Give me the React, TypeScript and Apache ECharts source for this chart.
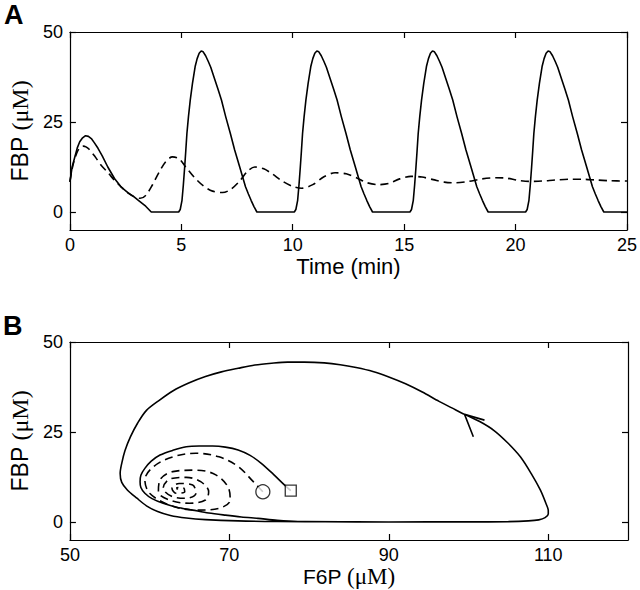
import React, { useEffect, useRef } from "react";
import * as echarts from "echarts";

// ---------- tick labels ----------
const timeTicks = [0, 5, 10, 15, 20, 25];
const fbpTicks = [0, 25, 50];
const f6pTicks = [50, 70, 90, 110];

// ---------- Panel A: FBP vs time ----------
const fbpOscillating: number[][] = [
  [0, 8.4], [0.1, 12.5], [0.22, 15.3], [0.33, 17.8], [0.44, 19.5], [0.57, 20.6], [0.7, 21.2], [0.83, 21.0],
  [0.96, 20.4], [1.1, 19.2], [1.26, 17.7], [1.45, 15.6], [1.7, 12.5], [2.0, 9.3], [2.29, 7.0], [2.6, 5.4],
  [2.88, 4.2], [3.1, 3.1], [3.4, 1.6], [3.65, 0],
  [4.88, 0], [4.95, 0.7], [5.03, 3.25], [5.09, 7.5], [5.15, 12.5], [5.2, 17], [5.25, 21.8], [5.32, 26.5],
  [5.4, 31.1], [5.5, 35.7], [5.62, 40.4], [5.71, 42.6], [5.8, 44.1], [5.89, 44.7], [5.98, 44.5], [6.09, 43.4],
  [6.21, 41.8], [6.32, 40.2], [6.49, 37.0], [6.65, 34.0], [6.8, 31.1], [6.99, 26.5], [7.2, 21.8], [7.39, 17.3],
  [7.62, 12.5], [7.88, 7.0], [8.01, 5.0], [8.13, 3.25], [8.26, 1.5], [8.39, 0],
  [10.07, 0], [10.14, 0.7], [10.22, 3.25], [10.28, 7.5], [10.34, 12.5], [10.39, 17], [10.44, 21.8], [10.51, 26.5],
  [10.59, 31.1], [10.69, 35.7], [10.81, 40.4], [10.9, 42.6], [10.99, 44.1], [11.08, 44.7], [11.17, 44.5], [11.28, 43.4],
  [11.4, 41.8], [11.51, 40.2], [11.68, 37.0], [11.84, 34.0], [11.99, 31.1], [12.18, 26.5], [12.39, 21.8], [12.58, 17.3],
  [12.81, 12.5], [13.07, 7.0], [13.2, 5.0], [13.32, 3.25], [13.45, 1.5], [13.58, 0],
  [15.26, 0], [15.33, 0.7], [15.41, 3.25], [15.47, 7.5], [15.53, 12.5], [15.58, 17], [15.63, 21.8], [15.7, 26.5],
  [15.78, 31.1], [15.88, 35.7], [16.0, 40.4], [16.09, 42.6], [16.18, 44.1], [16.27, 44.7], [16.36, 44.5], [16.47, 43.4],
  [16.59, 41.8], [16.7, 40.2], [16.87, 37.0], [17.03, 34.0], [17.18, 31.1], [17.37, 26.5], [17.58, 21.8], [17.77, 17.3],
  [18.0, 12.5], [18.26, 7.0], [18.39, 5.0], [18.51, 3.25], [18.64, 1.5], [18.77, 0],
  [20.45, 0], [20.52, 0.7], [20.6, 3.25], [20.66, 7.5], [20.72, 12.5], [20.77, 17], [20.82, 21.8], [20.89, 26.5],
  [20.97, 31.1], [21.07, 35.7], [21.19, 40.4], [21.28, 42.6], [21.37, 44.1], [21.46, 44.7], [21.55, 44.5], [21.66, 43.4],
  [21.78, 41.8], [21.89, 40.2], [22.06, 37.0], [22.22, 34.0], [22.37, 31.1], [22.56, 26.5], [22.77, 21.8], [22.96, 17.3],
  [23.19, 12.5], [23.45, 7.0], [23.58, 5.0], [23.7, 3.25], [23.83, 1.5], [23.96, 0], [25, 0],
];

const fbpDamped: number[][] = [
  [0, 8.4], [0.1, 12.0], [0.2, 14.5], [0.3, 16.3], [0.4, 17.5], [0.5, 18.1], [0.6, 18.3], [0.72, 18.1], [0.85, 17.5],
  [1.1, 15.6], [1.4, 13.0], [1.7, 11.0], [2.0, 8.8], [2.3, 7.0], [2.6, 5.3], [2.9, 4.2], [3.15, 3.8], [3.4, 4.6],
  [3.7, 7.5], [4.0, 11.0], [4.3, 14.0], [4.6, 15.3], [4.9, 14.8], [5.2, 12.5], [5.6, 9.5], [6.0, 7.2], [6.4, 5.8],
  [6.85, 5.4], [7.2, 6.2], [7.6, 8.5], [8.0, 11.5], [8.3, 12.5], [8.7, 12.0], [9.1, 10.5], [9.5, 8.7], [10.0, 7.1],
  [10.4, 6.6], [10.9, 7.6], [11.4, 9.8], [11.9, 10.9], [12.4, 10.6], [12.9, 9.4], [13.3, 8.2], [13.8, 7.6],
  [14.3, 7.9], [14.8, 9.2], [15.3, 9.9], [15.8, 9.7], [16.3, 9.0], [16.8, 8.3], [17.3, 8.1], [17.9, 8.5],
  [18.5, 9.2], [19.1, 9.5], [19.6, 9.4], [20.1, 8.8], [20.6, 8.5], [21.2, 8.6], [21.8, 8.9], [22.5, 9.1],
  [23.0, 9.1], [23.6, 8.9], [24.2, 8.7], [25, 8.6],
];

// ---------- Panel B: phase plane FBP vs F6P ----------
const limitCycle: number[][] = [
  [77.7, 8.7], [76.9, 10.3], [75.5, 13.3], [74.0, 16.3], [72.6, 18.5], [71.1, 20.0], [69.5, 20.8], [67.9, 21.1],
  [66.2, 21.1], [64.6, 20.9], [62.9, 19.9], [61.3, 18.6], [60.2, 16.9], [59.4, 14.9], [58.9, 13.0], [58.8, 11.2],
  [58.9, 9.6], [59.4, 8.0], [60.3, 6.5], [61.7, 5.2], [63.4, 4.1], [65.4, 3.3], [67.4, 2.5], [69.5, 1.9],
  [71.5, 1.4], [73.6, 1.0], [76.0, 0.5], [78.6, 0.15], [82, 0.05], [90, 0.02], [100, 0.03], [105, 0.1],
  [107.5, 0.3], [108.8, 0.6], [109.6, 1.2], [110.0, 2.2], [110.0, 3.2], [109.7, 5.2], [109.0, 8.9], [107.9, 13.3],
  [106.5, 18.1], [104.9, 22.0], [103.2, 25.4], [101.4, 27.9], [99.5, 29.9], [97.9, 31.7], [96.3, 33.5],
  [94.2, 36.1], [92.1, 38.4], [90.0, 40.3], [88.0, 41.8], [85.9, 42.9], [83.9, 43.7], [81.9, 44.2], [79.4, 44.4],
  [77.3, 44.4], [75.3, 44.1], [73.2, 43.6], [71.1, 42.7], [69.0, 41.7], [67.0, 40.4], [64.9, 38.6], [62.9, 36.4],
  [61.2, 33.8], [59.6, 31.0], [58.5, 27.5], [57.6, 23.7], [56.9, 19.8], [56.5, 16.3], [56.3, 13.5], [56.5, 11.0],
  [57.2, 8.9], [58.4, 6.6], [59.6, 4.5], [61.0, 2.9], [62.6, 1.8], [64.6, 1.1], [67.0, 0.65], [71.1, 0.3],
  [76.1, 0.15], [84, 0.05],
];

const dampedSpiral: number[][] = [
  [74.2, 8.4], [73.0, 11.2], [71.1, 15.4], [68.7, 18.1], [65.8, 19.1], [62.9, 18.1], [60.5, 15.4], [59.4, 11.7],
  [60.0, 8.0], [62.5, 4.7], [65.8, 3.3], [68.7, 3.8], [70.1, 6.1], [69.9, 9.4], [68.3, 13.1], [65.8, 14.4],
  [62.9, 14.0], [61.3, 11.7], [61.1, 8.4], [62.5, 6.1], [65.0, 5.2], [67.0, 6.1], [67.4, 8.4], [66.4, 11.2],
  [64.6, 12.4], [62.5, 11.9], [61.7, 9.4], [62.7, 7.2], [64.6, 6.6], [65.8, 8.0], [65.4, 10.3], [63.7, 10.7],
  [62.8, 9.4], [63.3, 8.0], [64.4, 8.4], [64.2, 9.6], [63.4, 9.5], [63.5, 9.0],
];

const arrowHead: number[][] = [[102.0, 28.3], [99.5, 29.9], [100.6, 23.7]];
const startSquare: number[][] = [[77.7, 8.7]];
const startCircle: number[][] = [[74.2, 8.4]];

const SANS = "Liberation Sans";
const SERIF = "Liberation Serif";

export default function App() {
  const ref = useRef<HTMLDivElement>(null);

  useEffect(() => {
    if (!ref.current) return;
    const chart = echarts.init(ref.current, undefined, { renderer: "svg" });

    const lineStyleAxis = { color: "#000", width: 1.2 };
    const labelStyle = { fontFamily: SANS, fontSize: 18, color: "#000" };

    const mkX = (gridIndex: number, min: number, max: number, ticks: number[], top: boolean, name?: any, nameStyle?: any, gap?: number) => ({
      type: "value",
      gridIndex,
      min,
      max,
      position: top ? "top" : "bottom",
      axisLine: { show: true, onZero: false, lineStyle: lineStyleAxis },
      axisTick: { show: true, inside: true, length: 6, lineStyle: lineStyleAxis, customValues: ticks },
      axisLabel: top ? { show: false } : { show: true, margin: 6, customValues: ticks, ...labelStyle },
      splitLine: { show: false },
      name: top ? undefined : name,
      nameLocation: "middle",
      nameGap: gap ?? 26,
      nameTextStyle: nameStyle,
    });

    const yNameStyle = {
      rich: {
        s: { fontFamily: SANS, fontSize: 23, color: "#000" },
        m: { fontFamily: SERIF, fontSize: 24, color: "#000" },
      },
    };

    const mkY = (gridIndex: number, right: boolean) => ({
      type: "value",
      gridIndex,
      min: -5,
      max: 50,
      position: right ? "right" : "left",
      axisLine: { show: true, onZero: false, lineStyle: lineStyleAxis },
      axisTick: { show: true, inside: true, length: 6, lineStyle: lineStyleAxis, customValues: fbpTicks },
      axisLabel: right ? { show: false } : { show: true, margin: 7, customValues: fbpTicks, ...labelStyle },
      splitLine: { show: false },
      name: right ? undefined : "{s|FBP }{m|(μM)}",
      nameLocation: "middle",
      nameRotate: 90,
      nameGap: 34,
      nameTextStyle: yNameStyle,
    });

    const line = (data: number[][], xi: number, dashed: boolean, smooth: number | boolean) => ({
      type: "line",
      xAxisIndex: xi,
      yAxisIndex: xi,
      data,
      showSymbol: false,
      symbol: "none",
      smooth,
      silent: true,
      lineStyle: { color: "#000", width: 1.6, type: dashed ? [8, 5] : "solid" },
      z: 3,
    });

    chart.setOption({
      animation: false,
      backgroundColor: "#fff",
      grid: [
        { left: 62, top: 32, width: 566, height: 198 },
        { left: 62, top: 342, width: 566, height: 198 },
      ],
      xAxis: [
        mkX(0, 0, 25, timeTicks, false, "Time (min)", { fontFamily: SANS, fontSize: 22, color: "#000" }, 25),
        mkX(0, 0, 25, timeTicks, true),
        mkX(1, 50, 120, f6pTicks, false, "{s|F6P }{m|(μM)}", {
          rich: {
            s: { fontFamily: SANS, fontSize: 21, color: "#000" },
            m: { fontFamily: SERIF, fontSize: 23, color: "#000" },
          },
        }, 24),
        mkX(1, 50, 120, f6pTicks, true),
      ],
      yAxis: [mkY(0, false), mkY(0, true), mkY(1, false), mkY(1, true)],
      series: [
        line(fbpOscillating, 0, false, false),
        line(fbpDamped, 0, true, 0.3),
        line(limitCycle, 2, false, 0.3),
        line(dampedSpiral, 2, true, 0.35),
        line(arrowHead, 2, false, false),
        {
          type: "scatter",
          xAxisIndex: 2,
          yAxisIndex: 2,
          data: startSquare,
          symbol: "rect",
          symbolSize: 11,
          itemStyle: { color: "#fff", borderColor: "#000", borderWidth: 1.3 },
          z: 5,
        },
        {
          type: "scatter",
          xAxisIndex: 2,
          yAxisIndex: 2,
          data: startCircle,
          symbol: "circle",
          symbolSize: 14,
          itemStyle: { color: "#fff", borderColor: "#000", borderWidth: 1.3 },
          z: 5,
        },
      ],
      graphic: [
        { type: "text", left: 4, top: 1, style: { text: "A", fontFamily: SANS, fontWeight: "bold", fontSize: 27, fill: "#000" } },
        { type: "text", left: 3, top: 312, style: { text: "B", fontFamily: SANS, fontWeight: "bold", fontSize: 27, fill: "#000" } },
      ],
    });

    return () => chart.dispose();
  }, []);

  return (
    <div
      ref={ref}
      style={{ position: "absolute", left: 0, top: 0, width: 640, height: 590, background: "#fff" }}
    />
  );
}
